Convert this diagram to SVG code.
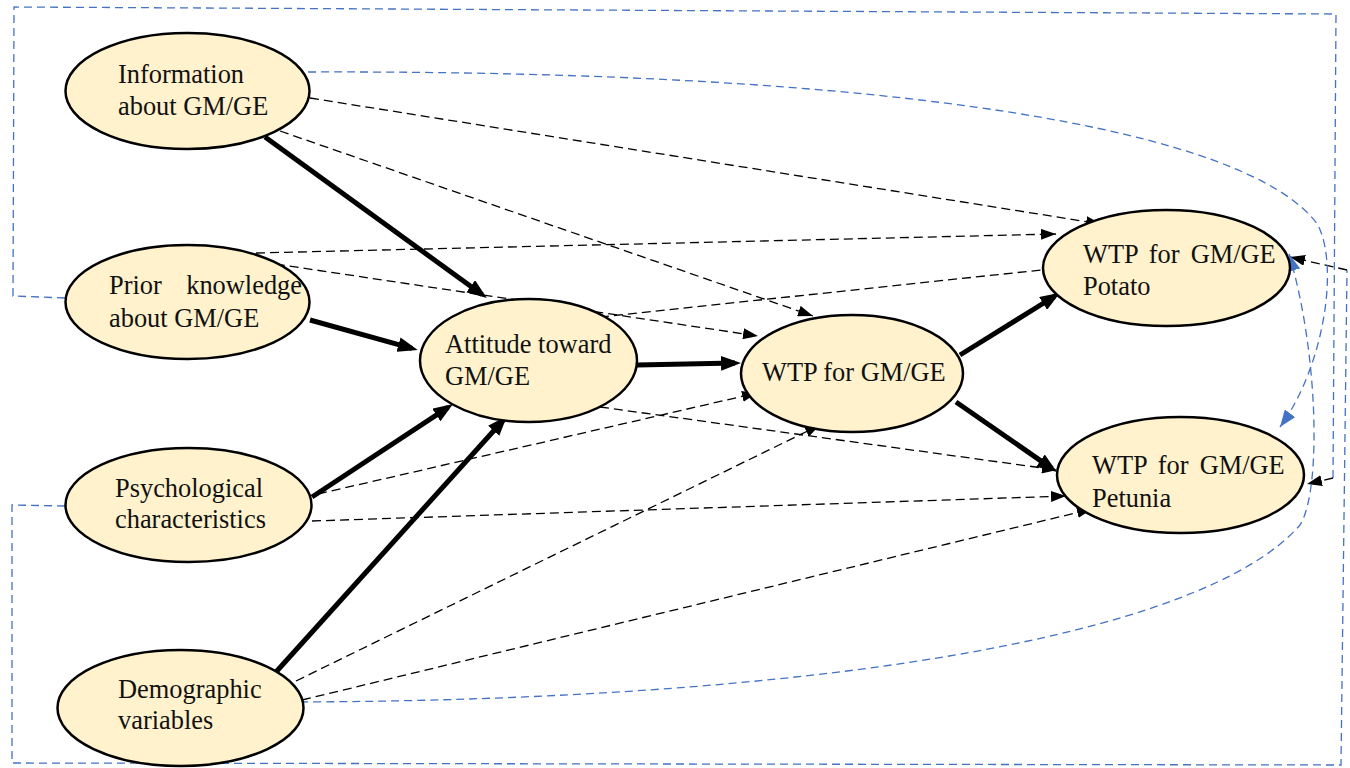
<svg xmlns="http://www.w3.org/2000/svg" width="1350" height="768" viewBox="0 0 1350 768">
<style>
.node ellipse{fill:#FFF2CC;stroke:#000;stroke-width:2.5}
.node text{font-family:'Liberation Serif','Times New Roman','DejaVu Serif',serif;font-size:26.4px;fill:#111}
.thick{stroke:#000;stroke-width:5;fill:none;marker-end:url(#ah)}
.dash{stroke:#000;stroke-width:1.3;stroke-dasharray:9 5;fill:none;marker-end:url(#ad)}
.blue{stroke:#4472C4;stroke-width:1.3;stroke-dasharray:8 5;fill:none}
.bk{stroke:#000;stroke-width:1.3;stroke-dasharray:9 5;fill:none}
</style>
<defs>
<marker id="ah" viewBox="0 0 20 15" refX="14" refY="7.5" markerWidth="20" markerHeight="15" markerUnits="userSpaceOnUse" orient="auto"><path d="M0,0 L20,7.5 L0,15 z" fill="#000"/></marker>
<marker id="ad" viewBox="0 0 15 11" refX="15" refY="5.5" markerWidth="15" markerHeight="11" markerUnits="userSpaceOnUse" orient="auto"><path d="M0,0 L15,5.5 L0,11 z" fill="#000"/></marker>
<marker id="ab" viewBox="0 0 17 13" refX="17" refY="6.5" markerWidth="17" markerHeight="13" markerUnits="userSpaceOnUse" orient="auto"><path d="M0,0 L17,6.5 L0,13 z" fill="#4472C4"/></marker>
</defs>
<rect width="1350" height="768" fill="#fff"/>
<g id="connectors">
<path class="blue" d="M65,298 L13,296 L14,7 L1336,14 L1333,478"/>
<path class="bk" d="M1333,478 L1307,484" marker-end="url(#ad)"/>
<path class="blue" d="M65,506 L12,505 L12,763 L1341,765 L1347,270"/>
<path class="bk" d="M1347,270 L1290,257" marker-end="url(#ad)"/>
<path class="blue" d="M308,72 C900,70 1250,130 1318,225 C1340,270 1322,370 1280,427" marker-end="url(#ab)"/>
<path class="blue" d="M300,702 C800,700 1200,640 1300,525 C1322,490 1318,350 1289,254" marker-end="url(#ab)"/>
<path class="dash" d="M310,98 L1101,224"/>
<path class="dash" d="M280,131 L813,316"/>
<path class="dash" d="M256,253 L1056,234"/>
<path class="dash" d="M262,262 L758,336"/>
<path class="dash" d="M600,317 L1060,268"/>
<path class="dash" d="M600,407 L1057,470"/>
<path class="dash" d="M318,494 L757,393"/>
<path class="dash" d="M312,521 L1066,496"/>
<path class="dash" d="M296,681 L820,425"/>
<path class="dash" d="M302,700 L1092,509"/>
<path class="thick" d="M265,137 L482,294.5"/>
<path class="thick" d="M310,320 L412,348.4"/>
<path class="thick" d="M312,497 L448,407.3"/>
<path class="thick" d="M276,672 L503,420.5"/>
<path class="thick" d="M637,365 L735,363.1"/>
<path class="thick" d="M960,355 L1055,296"/>
<path class="thick" d="M956,402 L1052,468.6"/>
</g>
<g id="n_info" class="node"><ellipse cx="187.5" cy="91" rx="122" ry="58"/><text x="118" y="83">Information</text><text x="118" y="115">about GM/GE</text></g>
<g id="n_prior" class="node"><ellipse cx="187.5" cy="302" rx="122" ry="57"/><text x="109" y="294">Prior</text><text x="302" y="294" text-anchor="end">knowledge</text><text x="109" y="327">about GM/GE</text></g>
<g id="n_psych" class="node"><ellipse cx="188.5" cy="505" rx="123" ry="57"/><text x="115" y="497">Psychological</text><text x="115" y="528">characteristics</text></g>
<g id="n_demo" class="node"><ellipse cx="180.5" cy="708" rx="123" ry="58"/><text x="118" y="698">Demographic</text><text x="118" y="729">variables</text></g>
<g id="n_att" class="node"><ellipse cx="528.5" cy="360.5" rx="108.5" ry="61.5"/><text x="445" y="353">Attitude toward</text><text x="445" y="385">GM/GE</text></g>
<g id="n_wtp" class="node"><ellipse cx="852" cy="373.5" rx="111" ry="58.5"/><text x="762" y="381">WTP for GM/GE</text></g>
<g id="n_potato" class="node"><ellipse cx="1166.5" cy="268" rx="123.5" ry="58"/><text x="1083" y="263" word-spacing="4.5">WTP for GM/GE</text><text x="1083" y="295">Potato</text></g>
<g id="n_petunia" class="node"><ellipse cx="1180.5" cy="475" rx="123.5" ry="58"/><text x="1092" y="474" word-spacing="4.5">WTP for GM/GE</text><text x="1092" y="507">Petunia</text></g>
</svg>
